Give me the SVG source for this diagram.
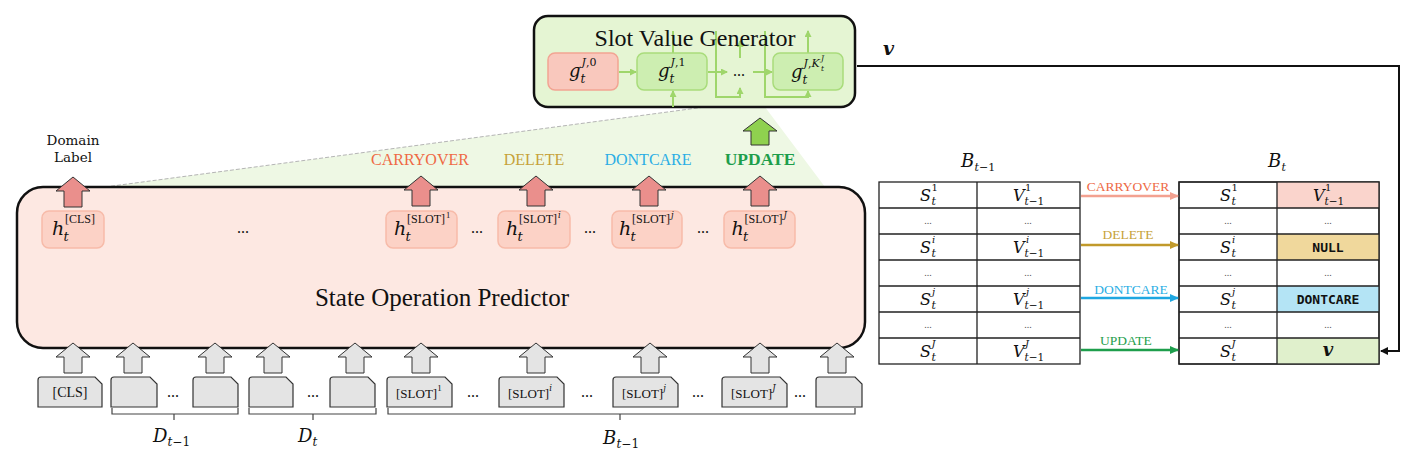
<svg xmlns="http://www.w3.org/2000/svg" width="1423" height="461" viewBox="0 0 1423 461">
<style>
text{font-family:"Liberation Serif",serif;fill:#111}
.m{font-family:"DejaVu Serif",serif;font-style:italic}
.mu{font-family:"DejaVu Serif",serif;font-style:normal}
.dots{font-size:16px;text-anchor:middle}
.sdots{font-size:10px;text-anchor:middle;fill:#555}
.tok{fill:#e4e4e4;stroke:#333;stroke-width:1.2}
.hbox{fill:#fcd2c6;stroke:#f7bba9;stroke-width:1.5}
.pinkA{fill:#ea8f8c;stroke:#333;stroke-width:1}
.greyA{fill:#e4e4e4;stroke:#333;stroke-width:1}
.gl{fill:none;stroke:#9fd66b;stroke-width:2}
.cell{fill:#fff;stroke:#222;stroke-width:1.3}
.mono{font-family:"DejaVu Sans Mono",monospace;font-weight:bold;font-size:13px;text-anchor:middle}
.brace{fill:none;stroke:#444;stroke-width:1.2}
</style>
<defs>
<path id="barrow" d="M0,0 L17,14 L9,14 L9,30 L-9,30 L-9,14 L-17,14 Z"/>
<marker id="mg" markerWidth="7" markerHeight="7" refX="6" refY="3.5" orient="auto" markerUnits="userSpaceOnUse"><path d="M0,0 L7,3.5 L0,7 Z" fill="#9fd66b"/></marker>
<marker id="mk" markerWidth="8" markerHeight="8" refX="7" refY="4" orient="auto" markerUnits="userSpaceOnUse"><path d="M0,0 L8,4 L0,8 Z" fill="#111"/></marker>
<marker id="mc" markerWidth="9" markerHeight="8" refX="8" refY="4" orient="auto" markerUnits="userSpaceOnUse"><path d="M0,0 L9,4 L0,8 Z" fill="#f3a190"/></marker>
<marker id="md" markerWidth="9" markerHeight="8" refX="8" refY="4" orient="auto" markerUnits="userSpaceOnUse"><path d="M0,0 L9,4 L0,8 Z" fill="#c19a2b"/></marker>
<marker id="mdc" markerWidth="9" markerHeight="8" refX="8" refY="4" orient="auto" markerUnits="userSpaceOnUse"><path d="M0,0 L9,4 L0,8 Z" fill="#1ea7e1"/></marker>
<marker id="mu" markerWidth="9" markerHeight="8" refX="8" refY="4" orient="auto" markerUnits="userSpaceOnUse"><path d="M0,0 L9,4 L0,8 Z" fill="#1e9e4c"/></marker>
</defs>
<rect width="1423" height="461" fill="#fff"/>

<g id="zoom-area">
<polygon points="705,107 765,107 825,187 105,187" fill="#eef8e4"/>
<line x1="105" y1="187" x2="705" y2="107" stroke="#b5b5b5" stroke-width="1" stroke-dasharray="4 2"/>
</g>

<g id="slot-value-generator">
<rect x="534" y="16" width="321" height="91" rx="14" fill="#e5f5d3" stroke="#111" stroke-width="2.5"/>
<g class="gl">
<path d="M619,72 H636" marker-end="url(#mg)"/>
<path d="M708,72 H727" marker-end="url(#mg)"/>
<path d="M753,72 H772" marker-end="url(#mg)"/>
<path d="M673,107 V91" marker-end="url(#mg)"/>
<path d="M673,53 V31"/>
<path d="M716,31 V97 H740 V88" marker-end="url(#mg)"/>
<path d="M740,58 V41" marker-end="url(#mg)"/>
<path d="M765,31 V97 H808 V91" marker-end="url(#mg)"/>
<path d="M808,53 V31" marker-end="url(#mg)"/>
</g>
<rect x="548" y="53" width="70" height="37" rx="7" fill="#f9c8bd" stroke="#f2a493" stroke-width="1.5"/>
<rect x="637" y="53" width="70" height="37" rx="7" fill="#cdeeb1" stroke="#a9dc7b" stroke-width="1.5"/>
<rect x="773" y="53" width="70" height="37" rx="7" fill="#cdeeb1" stroke="#a9dc7b" stroke-width="1.5"/>
<text x="695" y="46" font-size="24" text-anchor="middle">Slot Value Generator</text>
<text><tspan class="m" x="569" y="77" font-size="18">g</tspan><tspan class="m" x="580.5" y="83" font-size="12">t</tspan><tspan class="mu" x="581.5" y="66" font-size="11"><tspan class="m">J</tspan>,0</tspan></text>
<text><tspan class="m" x="658" y="77" font-size="18">g</tspan><tspan class="m" x="669.5" y="83" font-size="12">t</tspan><tspan class="mu" x="670.5" y="66" font-size="11"><tspan class="m">J</tspan>,1</tspan></text>
<text><tspan class="m" x="791" y="78" font-size="18">g</tspan><tspan class="m" x="802.5" y="84" font-size="12">t</tspan><tspan class="mu" x="803.5" y="67" font-size="11"><tspan class="m">J</tspan>,<tspan class="m">K</tspan></tspan><tspan class="m" x="821" y="61" font-size="7.5">J</tspan><tspan class="m" x="821" y="71" font-size="7.5">t</tspan></text>
<text class="dots" x="739" y="76">...</text>
</g>

<g id="state-operation-predictor">
<rect x="17" y="187" width="848" height="161" rx="26" fill="#fde8e2" stroke="#111" stroke-width="2.5"/>
<text x="442" y="306" font-size="25" text-anchor="middle">State Operation Predictor</text>
</g>

<g id="h-cls">
<rect class="hbox" x="42" y="211" width="62" height="37" rx="7"/>
<text><tspan class="m" x="52" y="235" font-size="19">h</tspan><tspan class="m" x="63.5" y="241" font-size="13">t</tspan><tspan x="65" y="223" font-size="12">[CLS]</tspan></text>
</g>
<g id="h-slot-1">
<rect class="hbox" x="386" y="211" width="71" height="37" rx="7"/>
<text><tspan class="m" x="394" y="235" font-size="19">h</tspan><tspan class="m" x="405.5" y="241" font-size="13">t</tspan><tspan x="407" y="223" font-size="12">[SLOT]</tspan><tspan x="446" y="218" font-size="8.5">1</tspan></text>
</g>
<g id="h-slot-i">
<rect class="hbox" x="498" y="211" width="72" height="37" rx="7"/>
<text><tspan class="m" x="506" y="235" font-size="19">h</tspan><tspan class="m" x="517.5" y="241" font-size="13">t</tspan><tspan x="519" y="223" font-size="12">[SLOT]</tspan><tspan class="m" x="558" y="218" font-size="8.5">i</tspan></text>
</g>
<g id="h-slot-j">
<rect class="hbox" x="612" y="211" width="70" height="37" rx="7"/>
<text><tspan class="m" x="619" y="235" font-size="19">h</tspan><tspan class="m" x="630.5" y="241" font-size="13">t</tspan><tspan x="632" y="223" font-size="12">[SLOT]</tspan><tspan class="m" x="671" y="218" font-size="8.5">j</tspan></text>
</g>
<g id="h-slot-J">
<rect class="hbox" x="724" y="211" width="71" height="37" rx="7"/>
<text><tspan class="m" x="731.5" y="235" font-size="19">h</tspan><tspan class="m" x="743" y="241" font-size="13">t</tspan><tspan x="744.5" y="223" font-size="12">[SLOT]</tspan><tspan class="m" x="783.5" y="218" font-size="8.5">J</tspan></text>
</g>
<g id="sop-dots">
<text class="dots" x="243" y="233">...</text>
<text class="dots" x="477" y="233">...</text>
<text class="dots" x="590" y="233">...</text>
<text class="dots" x="703" y="233">...</text>
</g>

<g id="domain-label">
<text x="73" y="145" font-size="13.5" text-anchor="middle" style="font-family:'DejaVu Serif',serif">Domain</text>
<text x="73" y="162" font-size="13.5" text-anchor="middle" style="font-family:'DejaVu Serif',serif">Label</text>
</g>
<g id="op-labels" font-size="16" text-anchor="middle">
<text x="420" y="165" style="fill:#ee6a45">CARRYOVER</text>
<text x="534" y="165" style="fill:#c6a23a">DELETE</text>
<text x="648" y="165" style="fill:#2aaee4">DONTCARE</text>
<text x="760" y="165" font-size="17.5" font-weight="bold" style="fill:#1e9e4c">UPDATE</text>
</g>

<g id="tokens">
<path class="tok" d="M38,380 Q38,377 41,377 H95 L102,384 V407 H38 Z"/>
<path class="tok" d="M111,380 Q111,377 114,377 H150 L157,384 V407 H111 Z"/>
<path class="tok" d="M193,380 Q193,377 196,377 H231 L238,384 V407 H193 Z"/>
<path class="tok" d="M249,380 Q249,377 252,377 H286 L293,384 V407 H249 Z"/>
<path class="tok" d="M330,380 Q330,377 333,377 H368 L375,384 V407 H330 Z"/>
<path class="tok" d="M387,380 Q387,377 390,377 H445 L452,384 V407 H387 Z"/>
<path class="tok" d="M499,380 Q499,377 502,377 H557 L564,384 V407 H499 Z"/>
<path class="tok" d="M613,380 Q613,377 616,377 H671 L678,384 V407 H613 Z"/>
<path class="tok" d="M722,380 Q722,377 725,377 H780 L787,384 V407 H722 Z"/>
<path class="tok" d="M816,380 Q816,377 819,377 H855 L862,384 V407 H816 Z"/>
<text x="70" y="397" font-size="14" text-anchor="middle">[CLS]</text>
<text x="396" y="398" font-size="13">[SLOT]<tspan dy="-7" font-size="9">1</tspan></text>
<text x="508" y="398" font-size="13">[SLOT]<tspan class="m" dy="-7" font-size="8.5">i</tspan></text>
<text x="622" y="398" font-size="13">[SLOT]<tspan class="m" dy="-7" font-size="8.5">j</tspan></text>
<text x="731" y="398" font-size="13">[SLOT]<tspan class="m" dy="-7" font-size="8.5">J</tspan></text>
<text class="dots" x="173" y="397">...</text>
<text class="dots" x="313" y="397">...</text>
<text class="dots" x="473" y="397">...</text>
<text class="dots" x="587" y="397">...</text>
<text class="dots" x="698" y="397">...</text>
<text class="dots" x="800" y="397">...</text>
</g>

<g id="segment-labels">
<text><tspan class="m" x="153" y="442" font-size="18">D</tspan><tspan class="mu" x="167.5" y="446" font-size="12"><tspan class="m">t</tspan>−1</tspan></text>
<text><tspan class="m" x="298" y="442" font-size="18">D</tspan><tspan class="m" x="312.5" y="446" font-size="12">t</tspan></text>
<text><tspan class="m" x="603" y="444" font-size="18">B</tspan><tspan class="mu" x="616.5" y="448" font-size="12"><tspan class="m">t</tspan>−1</tspan></text>
</g>

<g id="table-prev">
<text><tspan class="m" x="961" y="167" font-size="18">B</tspan><tspan class="mu" x="974.5" y="171" font-size="11"><tspan class="m">t</tspan>−1</tspan></text>
<rect class="cell" x="879" y="182" width="201" height="182"/>
<path d="M977,182 V364 M879,208 H1080 M879,234 H1080 M879,260 H1080 M879,286 H1080 M879,312 H1080 M879,338 H1080" stroke="#222" stroke-width="1.3"/>
<text><tspan class="m" x="920" y="201" font-size="16">S</tspan><tspan class="m" x="931.5" y="205" font-size="11">t</tspan><tspan class="mu" x="931.5" y="191" font-size="10">1</tspan></text>
<text><tspan class="m" x="1013" y="201" font-size="16">V</tspan><tspan class="mu" x="1024.5" y="205" font-size="10.5"><tspan class="m">t</tspan>−1</tspan><tspan class="mu" x="1025" y="191" font-size="10">1</tspan></text>
<text class="sdots" x="928" y="224">...</text><text class="sdots" x="1028" y="224">...</text>
<text><tspan class="m" x="920" y="253" font-size="16">S</tspan><tspan class="m" x="931.5" y="257" font-size="11">t</tspan><tspan class="m" x="932" y="243" font-size="10">i</tspan></text>
<text><tspan class="m" x="1013" y="253" font-size="16">V</tspan><tspan class="mu" x="1024.5" y="257" font-size="10.5"><tspan class="m">t</tspan>−1</tspan><tspan class="m" x="1026" y="243" font-size="10">i</tspan></text>
<text class="sdots" x="928" y="276">...</text><text class="sdots" x="1028" y="276">...</text>
<text><tspan class="m" x="920" y="305" font-size="16">S</tspan><tspan class="m" x="931.5" y="309" font-size="11">t</tspan><tspan class="m" x="932" y="295" font-size="10">j</tspan></text>
<text><tspan class="m" x="1013" y="305" font-size="16">V</tspan><tspan class="mu" x="1024.5" y="309" font-size="10.5"><tspan class="m">t</tspan>−1</tspan><tspan class="m" x="1026" y="295" font-size="10">j</tspan></text>
<text class="sdots" x="928" y="328">...</text><text class="sdots" x="1028" y="328">...</text>
<text><tspan class="m" x="920" y="357" font-size="16">S</tspan><tspan class="m" x="931.5" y="361" font-size="11">t</tspan><tspan class="m" x="931.5" y="347" font-size="10">J</tspan></text>
<text><tspan class="m" x="1013" y="357" font-size="16">V</tspan><tspan class="mu" x="1024.5" y="361" font-size="10.5"><tspan class="m">t</tspan>−1</tspan><tspan class="m" x="1025" y="347" font-size="10">J</tspan></text>
</g>

<g id="table-new">
<text><tspan class="m" x="1268" y="167" font-size="18">B</tspan><tspan class="m" x="1281.5" y="171" font-size="11">t</tspan></text>
<rect class="cell" x="1179" y="182" width="200" height="182"/>
<rect x="1277" y="182" width="102" height="26" fill="#fad4cc"/>
<rect x="1277" y="234" width="102" height="26" fill="#f0d89c"/>
<rect x="1277" y="286" width="102" height="26" fill="#b4e4f5"/>
<rect x="1277" y="338" width="102" height="26" fill="#e0f0cc"/>
<rect x="1179" y="182" width="200" height="182" fill="none" stroke="#222" stroke-width="1.3"/>
<path d="M1277,182 V364 M1179,208 H1379 M1179,234 H1379 M1179,260 H1379 M1179,286 H1379 M1179,312 H1379 M1179,338 H1379" stroke="#222" stroke-width="1.3"/>
<text><tspan class="m" x="1220" y="201" font-size="16">S</tspan><tspan class="m" x="1231.5" y="205" font-size="11">t</tspan><tspan class="mu" x="1231.5" y="191" font-size="10">1</tspan></text>
<text><tspan class="m" x="1313" y="201" font-size="16">V</tspan><tspan class="mu" x="1324.5" y="205" font-size="10.5"><tspan class="m">t</tspan>−1</tspan><tspan class="mu" x="1325" y="191" font-size="10">1</tspan></text>
<text class="sdots" x="1228" y="224">...</text><text class="sdots" x="1328" y="224">...</text>
<text><tspan class="m" x="1220" y="253" font-size="16">S</tspan><tspan class="m" x="1231.5" y="257" font-size="11">t</tspan><tspan class="m" x="1232" y="243" font-size="10">i</tspan></text>
<text class="mono" x="1328" y="252">NULL</text>
<text class="sdots" x="1228" y="276">...</text><text class="sdots" x="1328" y="276">...</text>
<text><tspan class="m" x="1220" y="305" font-size="16">S</tspan><tspan class="m" x="1231.5" y="309" font-size="11">t</tspan><tspan class="m" x="1232" y="295" font-size="10">j</tspan></text>
<text class="mono" x="1328" y="304">DONTCARE</text>
<text class="sdots" x="1228" y="328">...</text><text class="sdots" x="1328" y="328">...</text>
<text><tspan class="m" x="1220" y="357" font-size="16">S</tspan><tspan class="m" x="1231.5" y="361" font-size="11">t</tspan><tspan class="m" x="1231.5" y="347" font-size="10">J</tspan></text>
<text class="m" x="1328" y="356" font-size="18" font-weight="bold" text-anchor="middle">v</text>
</g>

<g id="table-op-labels" font-size="13.5" text-anchor="middle">
<text x="1128" y="191" style="fill:#ee6a45">CARRYOVER</text>
<text x="1128" y="239" style="fill:#c6a23a">DELETE</text>
<text x="1131" y="294" style="fill:#2aaee4">DONTCARE</text>
<text x="1126" y="345" style="fill:#1e9e4c">UPDATE</text>
</g>

<text id="v-label" class="m" x="883" y="55" font-size="19" font-weight="bold">v</text>

<g id="connectors">
<use href="#barrow" x="73" y="177" class="pinkA"/>
<use href="#barrow" x="421" y="176" class="pinkA"/>
<use href="#barrow" x="536" y="176" class="pinkA"/>
<use href="#barrow" x="649" y="176" class="pinkA"/>
<use href="#barrow" x="760" y="176" class="pinkA"/>
<path d="M760,118 L777,131 L769,131 L769,145 L751,145 L751,131 L743,131 Z" fill="#8fd14f" stroke="#333" stroke-width="1"/>
<use href="#barrow" x="73" y="343" class="greyA"/>
<use href="#barrow" x="133" y="343" class="greyA"/>
<use href="#barrow" x="215" y="343" class="greyA"/>
<use href="#barrow" x="273" y="343" class="greyA"/>
<use href="#barrow" x="355" y="343" class="greyA"/>
<use href="#barrow" x="421" y="343" class="greyA"/>
<use href="#barrow" x="536" y="343" class="greyA"/>
<use href="#barrow" x="650" y="343" class="greyA"/>
<use href="#barrow" x="760" y="343" class="greyA"/>
<use href="#barrow" x="837" y="343" class="greyA"/>
<path class="brace" d="M112,408 V414 H238 V408 M174,414 V420"/>
<path class="brace" d="M249,408 V414 H376 V408 M313,414 V420"/>
<path class="brace" d="M388,408 V414 H855 V408 M620,414 V420"/>
<path d="M857,66 H1399 V351 H1381" fill="none" stroke="#111" stroke-width="2" marker-end="url(#mk)"/>
<line x1="1081" y1="196" x2="1178" y2="196" stroke="#f3a190" stroke-width="2.5" marker-end="url(#mc)"/>
<line x1="1081" y1="245" x2="1178" y2="245" stroke="#c19a2b" stroke-width="2.5" marker-end="url(#md)"/>
<line x1="1081" y1="298" x2="1178" y2="298" stroke="#1ea7e1" stroke-width="2.5" marker-end="url(#mdc)"/>
<line x1="1081" y1="350" x2="1178" y2="350" stroke="#1e9e4c" stroke-width="2.5" marker-end="url(#mu)"/>
</g>
</svg>
